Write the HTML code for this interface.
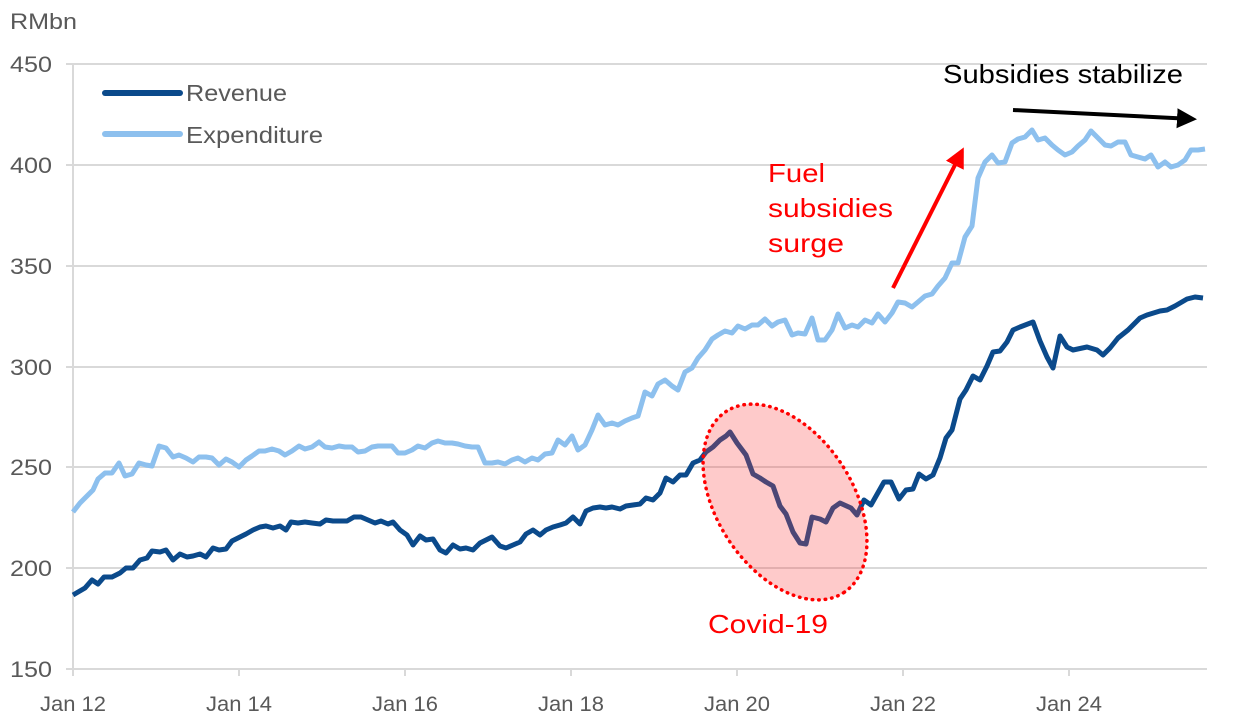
<!DOCTYPE html>
<html><head><meta charset="utf-8"><style>
html,body{margin:0;padding:0;background:#fff}
svg{display:block}
text{font-family:"Liberation Sans",sans-serif}
</style></head><body>
<svg width="1239" height="722" viewBox="0 0 1239 722" xmlns="http://www.w3.org/2000/svg">
<defs>
<marker id="ar" markerWidth="6" markerHeight="6" refX="4" refY="2.5" orient="auto" markerUnits="strokeWidth"><path d="M0,0 L5,2.5 L0,5 z" fill="#ff0000"/></marker>
<marker id="ab" markerWidth="6" markerHeight="6" refX="4" refY="2.5" orient="auto" markerUnits="strokeWidth"><path d="M0,0 L5,2.5 L0,5 z" fill="#000"/></marker>
</defs>
<g stroke="#d9d9d9" stroke-width="2">
<line x1="66" y1="64" x2="1207" y2="64"/>
<line x1="66" y1="165" x2="1207" y2="165"/>
<line x1="66" y1="266" x2="1207" y2="266"/>
<line x1="66" y1="367" x2="1207" y2="367"/>
<line x1="66" y1="467" x2="1207" y2="467"/>
<line x1="66" y1="568" x2="1207" y2="568"/>
<line x1="66" y1="669" x2="1207" y2="669"/>
<line x1="73" y1="64" x2="73" y2="676"/>
<line x1="239" y1="669" x2="239" y2="676"/>
<line x1="405" y1="669" x2="405" y2="676"/>
<line x1="571" y1="669" x2="571" y2="676"/>
<line x1="737" y1="669" x2="737" y2="676"/>
<line x1="903" y1="669" x2="903" y2="676"/>
<line x1="1069" y1="669" x2="1069" y2="676"/>
</g>
<g fill="#595959" font-size="22" text-anchor="end" lengthAdjust="spacingAndGlyphs">
<text x="52" y="72" textLength="42" lengthAdjust="spacingAndGlyphs">450</text><text x="52" y="173" textLength="42" lengthAdjust="spacingAndGlyphs">400</text><text x="52" y="274" textLength="42" lengthAdjust="spacingAndGlyphs">350</text>
<text x="52" y="375" textLength="42" lengthAdjust="spacingAndGlyphs">300</text><text x="52" y="475" textLength="42" lengthAdjust="spacingAndGlyphs">250</text><text x="52" y="576" textLength="42" lengthAdjust="spacingAndGlyphs">200</text><text x="52" y="677" textLength="42" lengthAdjust="spacingAndGlyphs">150</text>
</g>
<text x="10" y="29" fill="#595959" font-size="22" textLength="67" lengthAdjust="spacingAndGlyphs">RMbn</text>
<g fill="#595959" font-size="21" text-anchor="middle">
<text x="73" y="711" textLength="66" lengthAdjust="spacingAndGlyphs">Jan 12</text><text x="239" y="711" textLength="66" lengthAdjust="spacingAndGlyphs">Jan 14</text><text x="405" y="711" textLength="66" lengthAdjust="spacingAndGlyphs">Jan 16</text>
<text x="571" y="711" textLength="66" lengthAdjust="spacingAndGlyphs">Jan 18</text><text x="737" y="711" textLength="66" lengthAdjust="spacingAndGlyphs">Jan 20</text><text x="903" y="711" textLength="66" lengthAdjust="spacingAndGlyphs">Jan 22</text><text x="1069" y="711" textLength="66" lengthAdjust="spacingAndGlyphs">Jan 24</text>
</g>
<polyline fill="none" stroke="#8dc0ee" stroke-width="5" stroke-linejoin="round" points="73,512 80,503 86,497 93,490 98,479 105,473 112,473 119,463 125,476 132,474 139,463 146,465 152,466 159,446 166,448 173,457 179,455 186,458 193,462 199,457 206,457 212,458 219,465 226,459 232,462 239,467 246,460 252,456 259,451 265,451 272,449 279,451 285,455 292,451 299,446 305,449 312,447 319,442 325,447 332,448 339,446 345,447 352,447 358,452 365,451 372,447 378,446 385,446 392,446 398,453 405,453 412,450 418,446 425,448 432,443 438,441 445,443 452,443 458,444 465,446 472,447 478,447 485,463 492,463 498,462 505,464 512,460 518,458 525,462 532,458 538,460 545,454 552,453 558,440 565,445 572,436 578,450 585,445 592,430 598,415 605,425 612,423 618,425 625,421 632,418 638,416 645,392 652,396 658,384 665,380 672,386 678,390 685,372 692,368 698,358 705,350 712,339 718,335 725,331 732,333 738,326 745,329 752,325 758,325 765,319 772,326 778,322 785,320 792,335 798,333 805,334 812,318 818,340 825,340 832,330 838,314 845,328 852,325 858,327 865,320 872,323 878,314 885,322 892,313 898,302 905,303 912,307 918,302 925,296 932,294 938,286 945,278 952,263 958,263 965,237 972,226 978,178 985,162 992,155 998,163 1005,162 1012,143 1018,139 1025,137 1032,130 1038,140 1045,138 1052,145 1058,150 1065,155 1072,152 1078,146 1085,140 1091,131 1098,138 1105,145 1111,146 1118,142 1125,142 1131,155 1138,157 1145,159 1151,155 1158,167 1165,162 1171,167 1178,165 1185,160 1191,150 1198,150 1205,149"/>
<polyline fill="none" stroke="#0b4a8b" stroke-width="5" stroke-linejoin="round" points="73,595 85,588 92,580 98,584 104,577 112,577 120,573 126,568 133,568 140,560 147,558 152,551 160,552 166,550 173,560 180,554 187,557 193,556 200,554 206,557 213,548 219,550 226,549 232,541 240,537 246,534 253,530 260,527 266,526 273,528 280,526 286,530 291,522 298,523 305,522 312,523 320,524 326,520 333,521 340,521 347,521 354,517 361,517 368,520 375,523 381,521 388,524 393,522 400,530 407,535 413,545 420,536 426,540 433,539 440,550 446,553 453,545 460,549 466,548 473,550 480,543 486,540 492,537 500,546 506,548 513,545 520,542 526,534 533,530 540,535 546,530 553,527 560,525 566,523 573,517 580,524 586,511 593,508 600,507 606,508 612,507 620,509 626,506 633,505 640,504 646,498 653,500 660,493 666,478 673,482 680,475 686,475 693,463 700,460 706,452 713,447 720,440 726,436 730,432 737,443 746,455 753,474 760,478 766,482 773,486 780,506 786,514 793,532 800,543 806,544 812,517 820,519 826,522 833,508 840,503 851,508 857,515 864,500 871,505 884,482 891,482 899,499 906,490 913,489 919,474 926,479 933,475 940,458 946,438 952,430 960,399 966,390 973,376 980,380 987,366 993,352 1000,351 1007,342 1013,330 1020,327 1033,322 1040,341 1047,357 1053,368 1060,336 1067,347 1073,350 1087,347 1097,350 1103,355 1110,348 1118,338 1128,330 1140,318 1147,315 1160,311 1167,310 1175,306 1187,299 1195,297 1203,298"/>
<ellipse cx="785" cy="502" rx="108" ry="68" transform="rotate(57 785 502)" fill="rgba(250,60,60,0.27)" stroke="#ff0000" stroke-width="3.5" stroke-dasharray="0.5,6" stroke-linecap="round"/>
<text x="768" y="633" fill="#ff0000" font-size="26" text-anchor="middle" textLength="120" lengthAdjust="spacingAndGlyphs">Covid-19</text>
<line x1="105" y1="93" x2="180" y2="93" stroke="#0b4a8b" stroke-width="6" stroke-linecap="round"/>
<line x1="105" y1="134" x2="180" y2="134" stroke="#8dc0ee" stroke-width="6" stroke-linecap="round"/>
<text x="186" y="101" fill="#595959" font-size="23" textLength="101" lengthAdjust="spacingAndGlyphs">Revenue</text>
<text x="186" y="143" fill="#595959" font-size="23" textLength="137" lengthAdjust="spacingAndGlyphs">Expenditure</text>
<g fill="#ff0000" font-size="26">
<text x="768" y="182" textLength="57" lengthAdjust="spacingAndGlyphs">Fuel</text><text x="768" y="217" textLength="125" lengthAdjust="spacingAndGlyphs">subsidies</text><text x="768" y="252" textLength="76" lengthAdjust="spacingAndGlyphs">surge</text>
</g>
<line x1="893" y1="288" x2="962" y2="151" stroke="#ff0000" stroke-width="4" marker-end="url(#ar)"/>
<text x="943" y="83" fill="#000" font-size="26" textLength="240" lengthAdjust="spacingAndGlyphs">Subsidies stabilize</text>
<line x1="1013" y1="110" x2="1193" y2="119" stroke="#000" stroke-width="4" marker-end="url(#ab)"/>
</svg>
</body></html>
